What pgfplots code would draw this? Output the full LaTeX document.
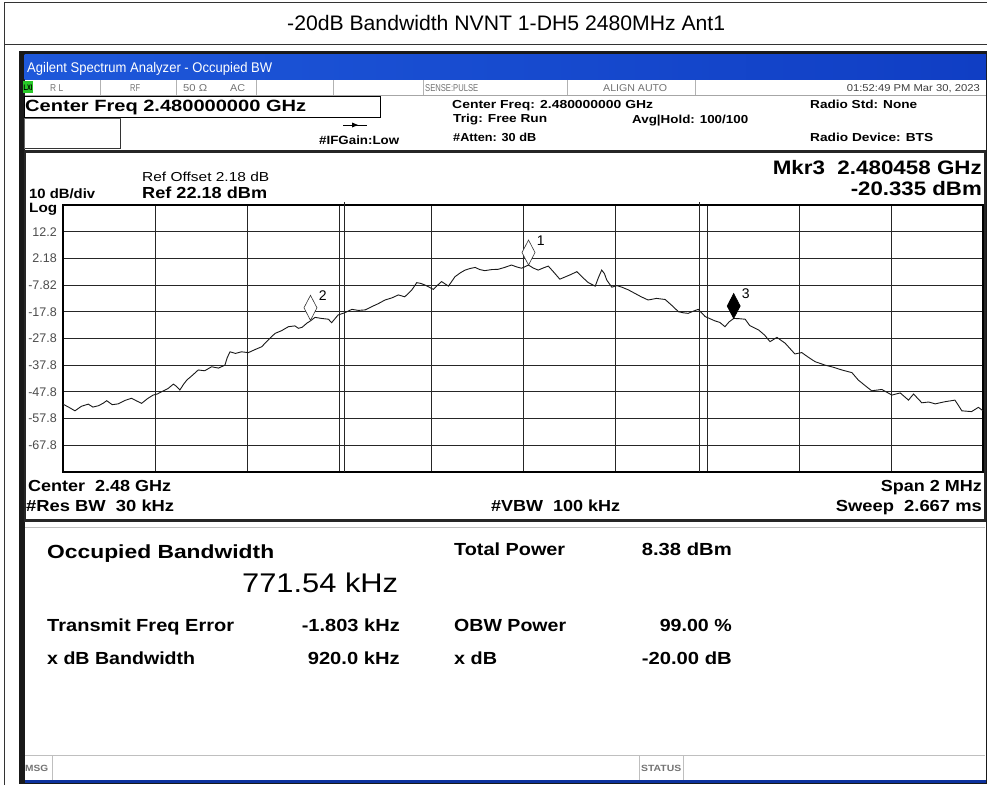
\documentclass[border=0pt]{standalone}
\usepackage{fontspec}
\setmainfont{Liberation Sans}
\usepackage{graphicx}
\usepackage{pgfplots}
\pgfplotsset{compat=1.18}
\definecolor{tbar}{RGB}{30,88,218}
\definecolor{tbar2}{RGB}{16,62,196}
\definecolor{sgray}{RGB}{115,115,115}
\definecolor{lgreen}{RGB}{40,200,40}
\newcommand\tx[7][]{\node[inner sep=0pt,anchor=base #2,#1] at (#3,{#4+0.36*#5}) {\resizebox{#6pt}{\height}{\fontsize{#5}{#5}\selectfont #7}};}
\pgfdeclareplotmark{mkr}{%
  \pgfpathmoveto{\pgfqpoint{0pt}{0pt}}%
  \pgfpathlineto{\pgfqpoint{6.5pt}{12.5pt}}%
  \pgfpathlineto{\pgfqpoint{0pt}{25pt}}%
  \pgfpathlineto{\pgfqpoint{-6.5pt}{12.5pt}}%
  \pgfpathclose\pgfusepathqfillstroke}
\pgfplotstableread{
f p
-1000 -52.4
-987 -53.6
-974 -54.9
-960 -53.2
-945 -52.4
-935 -53.5
-923 -53.0
-912 -52.0
-905 -51.1
-893 -52.6
-880 -52.3
-865 -51.0
-851 -50.2
-840 -51.2
-829 -52.1
-816 -50.3
-804 -49.0
-795 -48.6
-785 -47.7
-772 -46.6
-760 -44.9
-753 -45.8
-746 -47.1
-738 -45.0
-731 -43.4
-718 -41.5
-706 -39.6
-692 -39.9
-677 -38.4
-662 -38.9
-648 -37.8
-643 -35.0
-637 -32.8
-625 -33.4
-612 -32.8
-597 -33.1
-583 -32.0
-568 -30.9
-553 -28.2
-539 -25.9
-525 -24.9
-510 -23.4
-496 -23.1
-488 -24.0
-480 -23.6
-470 -22.1
-462 -21.2
-452 -19.9
-438 -20.3
-423 -20.6
-416 -21.9
-402 -19.0
-388 -18.2
-372 -16.9
-358 -17.3
-343 -17.1
-329 -15.9
-315 -14.8
-300 -13.4
-285 -12.6
-271 -11.5
-257 -12.2
-242 -9.7
-231 -6.9
-222 -7.2
-213 -7.8
-195 -9.4
-186 -7.9
-177 -6.5
-162 -8.2
-148 -4.7
-137 -3.3
-126 -2.2
-115 -1.6
-104 -1.2
-94 -2.0
-83 -2.4
-68 -2.0
-54 -1.9
-40 -1.2
-25 -0.3
-14 -1.0
-3 -1.5
12 -0.3
22 -1.4
33 -2.2
44 -1.4
55 -0.7
68 -3.2
80 -5.6
91 -4.8
102 -4.0
117 -2.8
130 -5.0
142 -6.9
157 -8.2
164 -5.0
171 -2.2
177 -3.5
182 -5.9
193 -8.6
204 -8.0
215 -8.6
229 -9.6
243 -10.9
257 -12.2
272 -13.4
290 -12.8
309 -13.2
324 -15.5
338 -17.8
349 -18.2
359 -18.4
370 -17.6
381 -16.9
396 -19.6
417 -21.2
428 -21.8
439 -23.4
448 -21.6
458 -20.3
470 -20.4
483 -20.6
493 -23.0
512 -24.6
525 -26.5
537 -29.0
552 -27.4
570 -29.6
591 -33.6
606 -33.1
620 -34.8
635 -36.5
657 -37.8
675 -38.6
693 -39.6
715 -40.6
729 -43.4
744 -45.5
758 -47.4
780 -46.9
802 -49.0
820 -48.2
838 -50.9
849 -48.6
867 -51.9
882 -51.6
896 -52.3
917 -51.5
939 -50.9
947 -53.0
954 -54.9
975 -55.2
990 -53.6
1000 -54.9
}\trace
\begin{document}
\begin{tikzpicture}[x=1pt,y=-1pt]
\path[use as bounding box] (0,0) rectangle (987,785);
\fill[white] (0,0) rectangle (987,785);
% table lines
\draw[line width=0.9pt,black!80] (4.5,785) -- (4.5,2.5) -- (987,2.5);
\draw[line width=0.9pt,black!80] (4.5,44.5) -- (987,44.5);
\tx{west}{287}{22.8}{21}{438}{-20dB Bandwidth NVNT 1-DH5 2480MHz Ant1}
% window frame
\fill[black!90] (18.5,50.5) rectangle (987,784);
\fill[white] (24.5,54.5) rectangle (986,780.5);
\shade[left color=tbar,right color=tbar2] (24.5,54.5) rectangle (986,79.5);
\tx[text=white]{west}{27}{67.3}{14}{245}{Agilent Spectrum Analyzer - Occupied BW}
% status row
\draw[black!35,line width=0.6pt] (24.5,95.5) -- (986,95.5);
\foreach \sx in {100,176,256,333,423,567,695}{\draw[black!30,line width=0.6pt] (\sx,80) -- (\sx,95);}
\fill[lgreen] (23,81) rectangle (33,93);
\node[inner sep=0pt] at (28,87.5) {\resizebox{9pt}{\height}{\fontsize{8}{8}\selectfont\bfseries LXI}};
\tx[text=sgray]{west}{50}{88}{10}{13}{R L}
\tx[text=sgray]{west}{130}{88}{10}{10}{RF}
\tx[text=sgray]{west}{183}{88}{10}{24}{50 Ω}
\tx[text=sgray]{west}{230}{88}{10}{15}{AC}
\tx[text=sgray]{west}{425}{88}{10}{53}{SENSE:PULSE}
\tx[text=sgray]{west}{603}{88}{10}{64}{ALIGN AUTO}
\tx[text=black!75]{east}{980}{88}{10}{133}{01:52:49 PM Mar 30, 2023}
% header
\draw[black,line width=1pt] (24.5,96.5) rectangle (380,117);
\draw[black!60,line width=1pt] (24.5,118.5) rectangle (120,148);
\draw[black!80,line width=1pt] (120.5,119) -- (120.5,148.5) -- (25,148.5);
\tx{west}{25}{106}{16.3}{281}{\bfseries Center Freq 2.480000000 GHz}
\tx{west}{319}{140}{12}{80}{\bfseries \#IFGain:Low}
\draw[black,line width=0.8pt] (343,125) -- (367,125);
\fill[black] (352,122.5) -- (358,125) -- (352,127.5) -- cycle;
\tx{west}{452}{104}{11.6}{201}{\bfseries Center Freq: 2.480000000 GHz}
\tx{west}{453}{118}{11.6}{94}{\bfseries Trig: Free Run}
\tx{west}{453}{137}{11.6}{83}{\bfseries \#Atten: 30 dB}
\tx{west}{632}{119}{11.6}{116}{\bfseries Avg|Hold: 100/100}
\tx{west}{810}{104}{11.6}{107}{\bfseries Radio Std: None}
\tx{west}{810}{137}{11.6}{123}{\bfseries Radio Device: BTS}
% graph panel
\draw[black!85,line width=2.5pt] (25,151.5) rectangle (985,520.5);
\begin{axis}[at={(63pt,-472pt)},anchor=south west,scale only axis,
  width=920pt,height=267pt,
  xmin=-1000,xmax=1000,ymin=-77.82,ymax=22.18,
  xtick={-800,-600,...,800},xticklabels={},
  ytick={12.18,2.18,-7.82,-17.82,-27.82,-37.82,-47.82,-57.82,-67.82},
  yticklabels={12.2,2.18,-7.82,-17.8,-27.8,-37.8,-47.8,-57.8,-67.8},
  /pgf/number format/assume math mode=true,
  yticklabel style={anchor=east,inner sep=0pt,xshift=-6pt,text=black!70,font=\fontsize{12.5}{12.5}\selectfont},
  major tick length=0pt,
  grid=major,major grid style={black!85,line width=0.9pt},
  axis line style={black,line width=2pt},
  clip=false]
\addplot[black!85,line width=0.9pt] coordinates {(-387.6,-77.82) (-387.6,23.4)};
\addplot[black!85,line width=0.9pt] coordinates {(384.0,-77.82) (384.0,23.4)};
\addplot[black!90,line width=0.9pt] table[x=f,y=p]{\trace};
\addplot[only marks,mark=mkr,mark options={fill=white,draw=black!80,line width=0.6pt},
  point meta=explicit symbolic,nodes near coords,
  nodes near coords style={anchor=base west,inner sep=0pt,xshift=8pt,yshift=20pt,font=\fontsize{14}{14}\selectfont}]
  coordinates {(12,-0.3) [1] (-462,-21.0) [2]};
\addplot[only marks,mark=mkr,mark options={fill=black,draw=black,line width=0.6pt},
  point meta=explicit symbolic,nodes near coords,
  nodes near coords style={anchor=base west,inner sep=0pt,xshift=8pt,yshift=20pt,font=\fontsize{14}{14}\selectfont}]
  coordinates {(458,-20.335) [3]};
\end{axis}
\tx{west}{142}{177}{13}{127}{Ref Offset 2.18 dB}
\tx{west}{142}{193}{16}{125}{\bfseries Ref 22.18 dBm}
\tx{west}{29}{194}{13.5}{66}{\bfseries 10 dB/div}
\tx{west}{29}{208}{13.5}{28}{\bfseries Log}
\tx{east}{982}{167}{19.5}{209}{\bfseries Mkr3\ \ 2.480458 GHz}
\tx{east}{982}{188}{19.5}{131}{\bfseries -20.335 dBm}
\tx{west}{28}{486}{16}{143}{\bfseries Center\ \ 2.48 GHz}
\tx{west}{26}{506}{16}{148}{\bfseries \#Res BW\ \ 30 kHz}
\tx{west}{491}{506}{16}{129}{\bfseries \#VBW\ \ 100 kHz}
\tx{east}{982}{486}{16}{101}{\bfseries Span 2 MHz}
\tx{east}{982}{506}{16}{146}{\bfseries Sweep\ \ 2.667 ms}
% results
\draw[black!25,line width=1pt] (25,527.5) -- (985,527.5);
\tx{west}{47}{552}{19}{227}{\bfseries Occupied Bandwidth}
\tx{west}{242}{583}{27}{156}{771.54 kHz}
\tx{west}{454}{549}{17.5}{111}{\bfseries Total Power}
\tx{east}{732}{549}{17.5}{90}{\bfseries 8.38 dBm}
\tx{west}{47}{625}{17.5}{187}{\bfseries Transmit Freq Error}
\tx{east}{400}{625}{17.5}{98}{\bfseries -1.803 kHz}
\tx{west}{454}{625}{17.5}{112}{\bfseries OBW Power}
\tx{east}{732}{625}{17.5}{72}{\bfseries 99.00 \%}
\tx{west}{47}{658}{17.5}{148}{\bfseries x dB Bandwidth}
\tx{east}{400}{658}{17.5}{92}{\bfseries 920.0 kHz}
\tx{west}{454}{658}{17.5}{43}{\bfseries x dB}
\tx{east}{732}{658}{17.5}{90}{\bfseries -20.00 dB}
% bottom bar
\draw[black!25,line width=1pt] (25,755.5) -- (985,755.5);
\foreach \sx in {52,639,683}{\draw[black!25,line width=0.8pt] (\sx,756) -- (\sx,780);}
\tx[text=sgray]{west}{25}{768}{9}{23}{\bfseries MSG}
\tx[text=sgray]{west}{641}{768}{9}{40}{\bfseries STATUS}
\fill[tbar2!80!black] (24.5,780) rectangle (986,782.5);
\end{tikzpicture}
\end{document}
